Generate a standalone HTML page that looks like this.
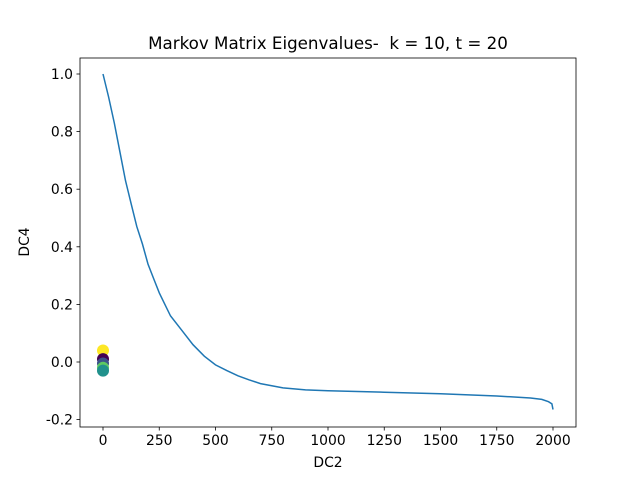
<!DOCTYPE html>
<html><head><meta charset="utf-8"><style>
body{margin:0;background:#fff;font-family:"Liberation Sans","DejaVu Sans",sans-serif}
svg text{font-family:"DejaVu Sans","Liberation Sans",sans-serif;font-size:13.9px;fill:#000}
</style></head><body>
<svg id="c" width="640" height="480" xmlns="http://www.w3.org/2000/svg"></svg>
<script>
const xTicks=[0,250,500,750,1000,1250,1500,1750,2000];
const yTicks=[-0.2,0.0,0.2,0.4,0.6,0.8,1.0];
const curveX=[0,25,50,75,100,125,150,175,200,225,250,275,300,350,400,450,500,550,600,650,700,800,900,1000,1250,1500,1750,1900,1950,1980,1995,2000];
const curveY=[1.0,0.92,0.83,0.73,0.63,0.55,0.47,0.41,0.34,0.29,0.24,0.2,0.16,0.11,0.06,0.02,-0.01,-0.03,-0.048,-0.062,-0.075,-0.09,-0.097,-0.1,-0.105,-0.11,-0.118,-0.125,-0.13,-0.138,-0.145,-0.165];
const ptX=[0,0,0,0,0];
const ptY=[0.04,0.01,-0.005,-0.02,-0.03];
const ptColors=["#fde725","#440154","#3b528b","#5ec962","#21918c"];
const L=80,R=576,T=58,B=427;
const sx=v=>103+v*(450/2000);
const sy=v=>362-v*288;
const svg=document.getElementById('c');const NS='http://www.w3.org/2000/svg';
function mk(t,a,p){const e=document.createElementNS(NS,t);for(const k in a)e.setAttribute(k,a[k]);(p||svg).appendChild(e);return e;}
let d='';curveX.forEach((x,i)=>{d+=(i?'L':'M')+sx(x).toFixed(1)+','+sy(curveY[i]).toFixed(1);});
const line=mk('path',{d:d,fill:'none',stroke:'#1f77b4','stroke-width':1.5});


ptX.forEach((x,i)=>{const c=mk('circle',{cx:sx(x),cy:sy(ptY[i]),r:6,fill:ptColors[i]});

});
const fr=mk('rect',{x:L,y:T,width:R-L,height:B-T,fill:'none',stroke:'#000','stroke-width':0.8});


xTicks.forEach(v=>{const x=sx(v);mk('line',{x1:x,x2:x,y1:B,y2:B+3.5,stroke:'#000','stroke-width':0.8});
const t=mk('text',{x:x,y:B+18,'text-anchor':'middle'});t.textContent=v;

});
yTicks.forEach(v=>{const y=sy(v);mk('line',{x1:L-3.5,x2:L,y1:y,y2:y,stroke:'#000','stroke-width':0.8});
const t=mk('text',{x:L-7,y:y+5,'text-anchor':'end'});t.textContent=v.toFixed(1);

});
const xt=mk('text',{x:328,y:467,'text-anchor':'middle'});xt.textContent='DC2';


const yt=mk('text',{x:29,y:242,'text-anchor':'middle',transform:'rotate(-90 29 242)'});yt.textContent='DC4';


const ti=mk('text',{x:328,y:49,'text-anchor':'middle',style:'font-size:16.7px'});ti.textContent='Markov Matrix Eigenvalues-  k = 10, t = 20';
ti.setAttribute('xml:space','preserve');ti.style.whiteSpace='pre';


</script>
</body></html>
